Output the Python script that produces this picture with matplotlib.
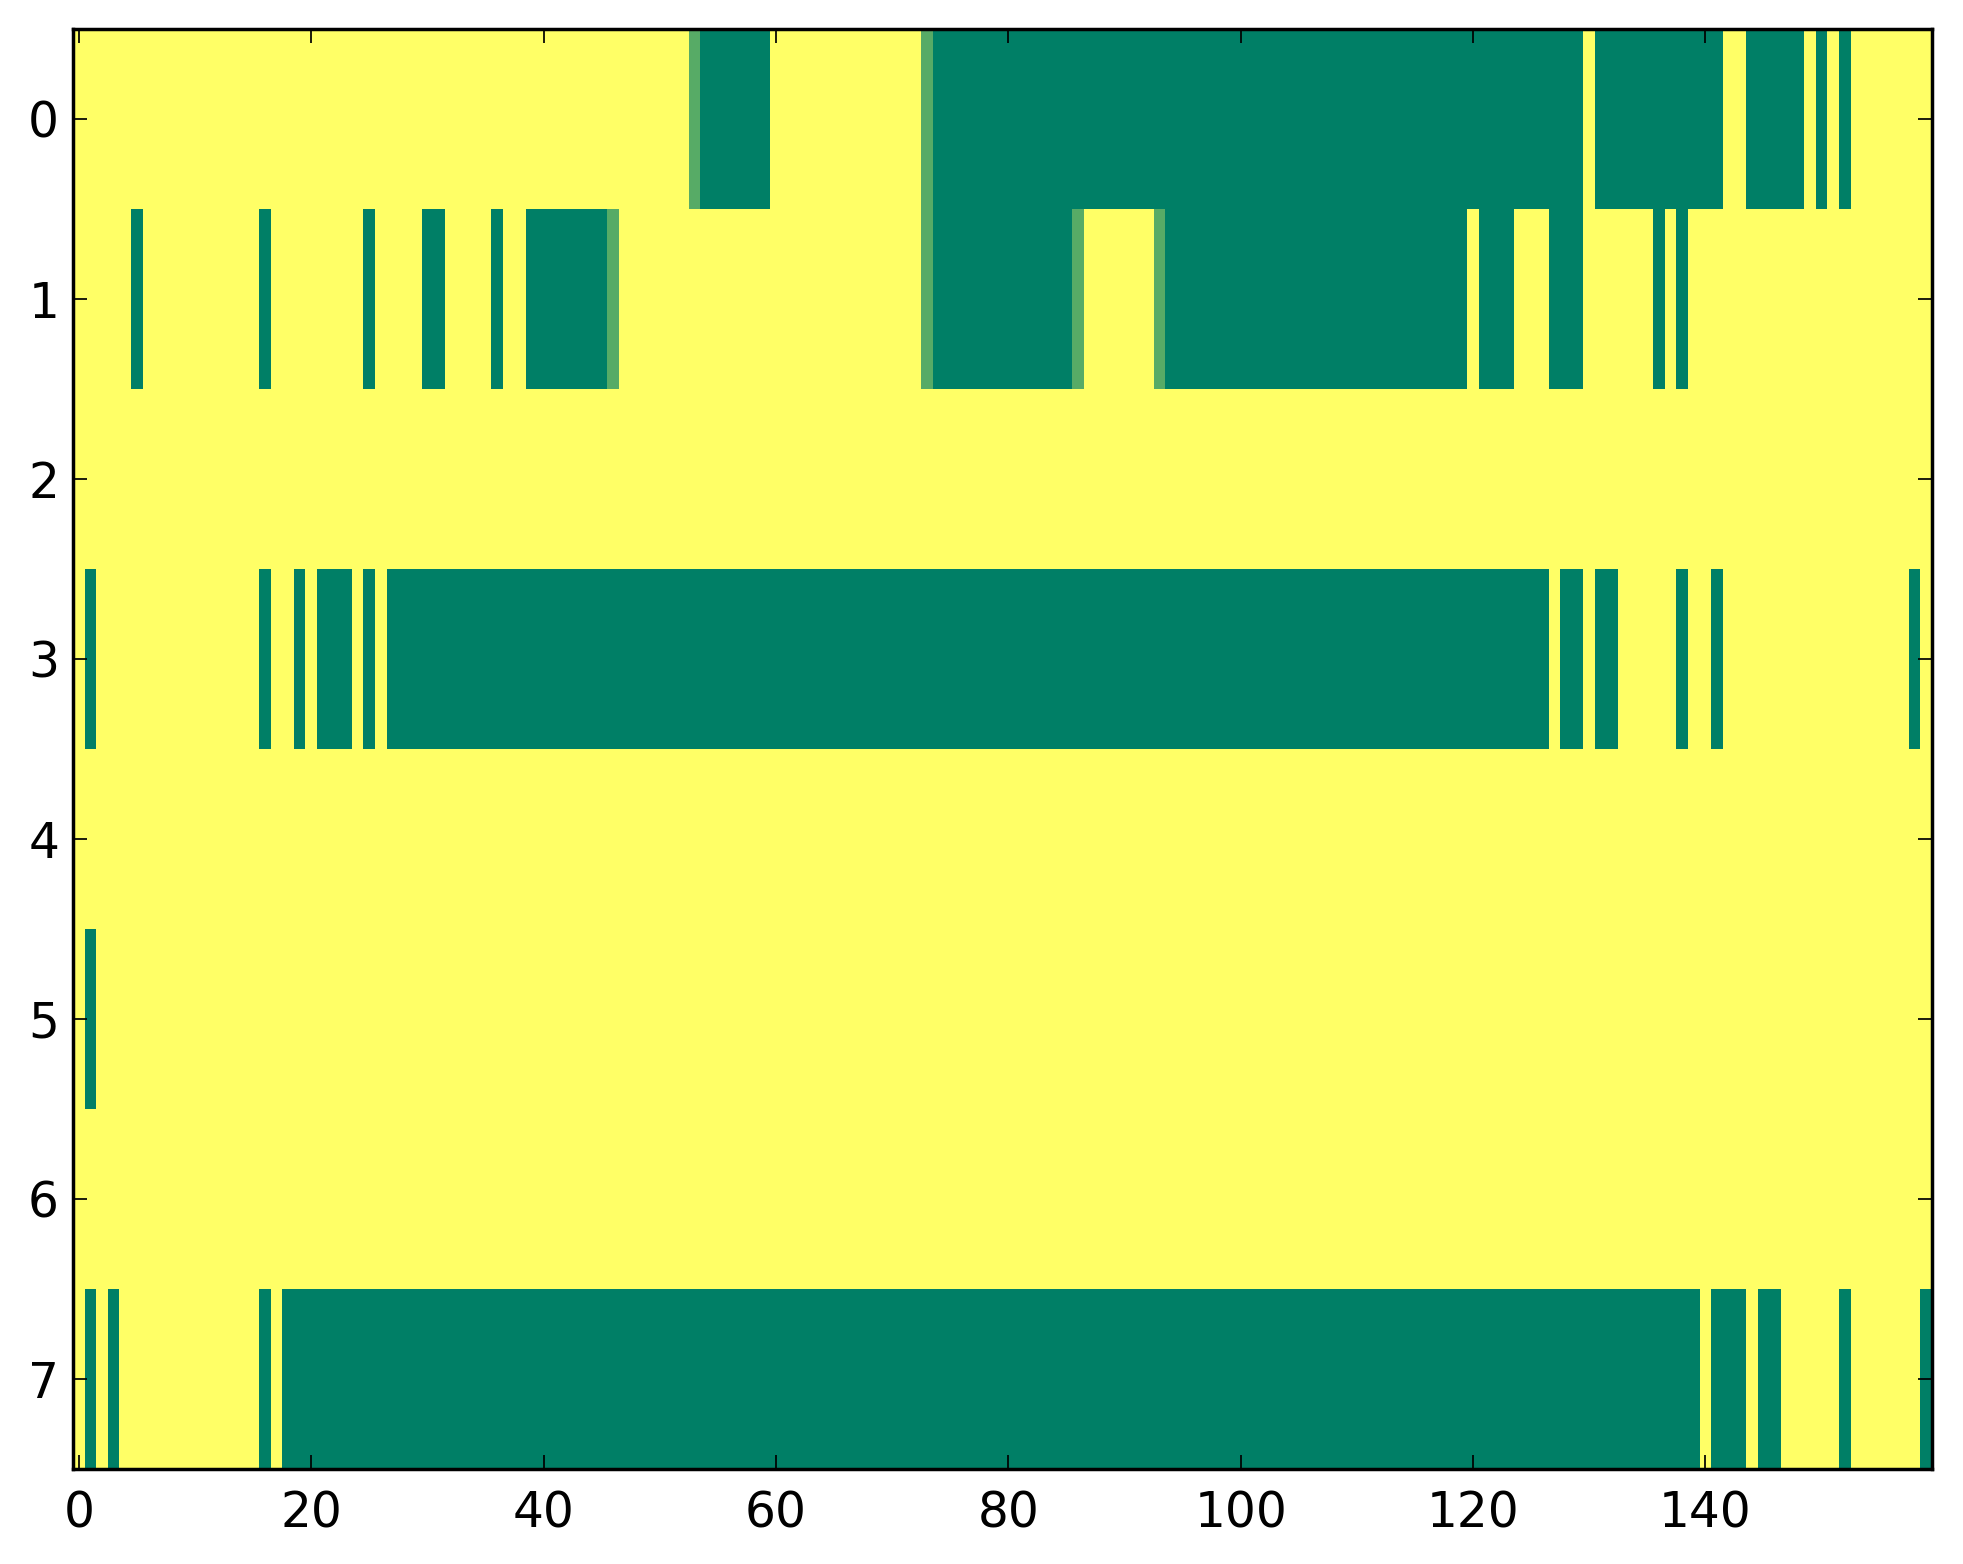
import matplotlib
matplotlib.use('Agg')
import matplotlib.pyplot as plt
import numpy as np

# matrix size
n_rows = 8
n_cols = 160

# low-value runs per row (start, end inclusive) -> value 0
low_runs = {
    0: [(54, 59), (74, 129), (131, 141), (144, 148), (150, 150), (152, 152)],
    1: [(5, 5), (16, 16), (25, 25), (30, 31), (36, 36), (39, 45), (74, 85),
        (94, 119), (121, 123), (127, 129), (136, 136), (138, 138)],
    2: [],
    3: [(1, 1), (16, 16), (19, 19), (21, 23), (25, 25), (27, 126), (128, 129),
        (131, 132), (138, 138), (141, 141), (158, 158)],
    4: [],
    5: [(1, 1)],
    6: [],
    7: [(1, 1), (3, 3), (16, 16), (18, 139), (141, 143), (145, 146),
        (152, 152), (159, 159)],
}
# cells with an in-between value
mid_cells = {0: [53, 73], 1: [46, 73, 86, 93]}
mid_value = 0.34

data = np.ones((n_rows, n_cols))
for r, runs in low_runs.items():
    for a, b in runs:
        data[r, a:b + 1] = 0.0
for r, cols in mid_cells.items():
    for c in cols:
        data[r, c] = mid_value

plt.rcParams['font.family'] = 'DejaVu Sans'
plt.rcParams['font.size'] = 14
plt.rcParams['xtick.direction'] = 'in'
plt.rcParams['ytick.direction'] = 'in'
plt.rcParams['xtick.top'] = True
plt.rcParams['ytick.right'] = True
plt.rcParams['xtick.major.size'] = 4
plt.rcParams['ytick.major.size'] = 4
plt.rcParams['xtick.major.width'] = 0.5
plt.rcParams['ytick.major.width'] = 0.5
plt.rcParams['xtick.major.pad'] = 6
plt.rcParams['ytick.major.pad'] = 4
plt.rcParams['axes.linewidth'] = 1.0

fig = plt.figure(figsize=(1963 / 250, 1564 / 250), dpi=250)
ax = fig.add_axes([73 / 1963, 1 - 1469 / 1564, (1932 - 73) / 1963, (1469 - 29) / 1564])
ax.imshow(data, cmap='summer', aspect='auto', interpolation='nearest', vmin=0, vmax=1)
ax.set_xticks(np.arange(0, 160, 20))
ax.set_yticks(np.arange(0, 8))

fig.savefig('out.png', dpi=250, facecolor='white')
